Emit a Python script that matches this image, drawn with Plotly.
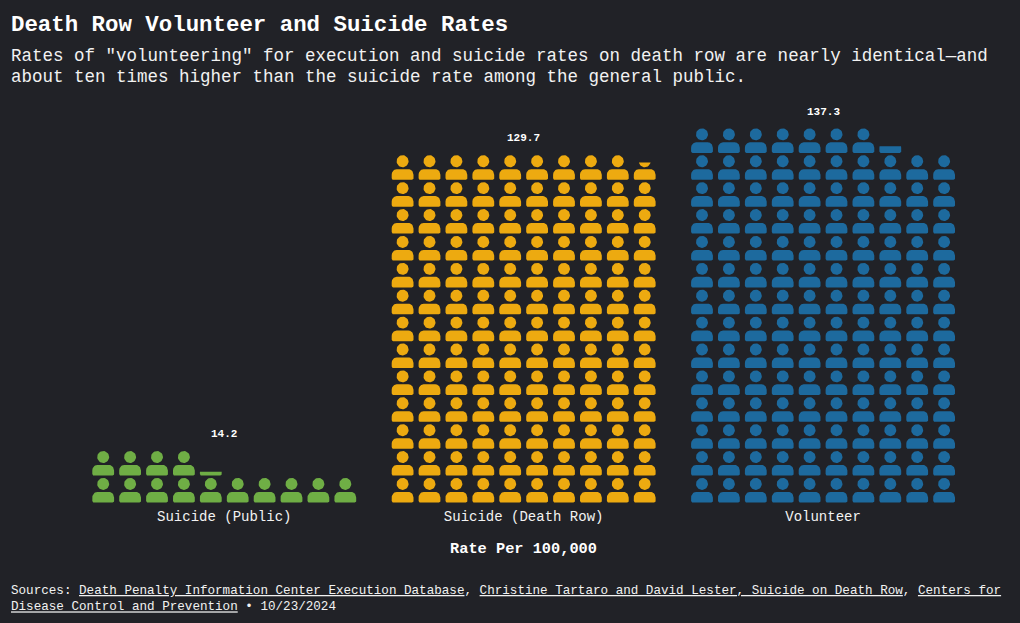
import math
import plotly.graph_objects as go

categories = ["Suicide (Public)", "Suicide (Death Row)", "Volunteer"]
rates = [14.2, 129.7, 137.3]
colors = ["#6FAE45", "#EDAA10", "#1D6A9E"]

PER_ROW = 10
W, H = 1020, 623
BG = "#212227"
FONT = "Liberation Mono"
PITCH_X, PITCH_Y = 26.9, 26.9
BASE_PX = 504.2
LEFT = 27
FIRST_COL_PX = [103.2, 402.6, 702.0]


def circle(cx, cy, r, n=36):
    return [(cx + r * math.cos(2 * math.pi * i / n), cy + r * math.sin(2 * math.pi * i / n)) for i in range(n)]


def arc(cx, cy, rx, ry, a0, a1, n=10):
    return [(cx + rx * math.cos(math.radians(a0 + (a1 - a0) * i / n)),
             cy + ry * math.sin(math.radians(a0 + (a1 - a0) * i / n))) for i in range(n + 1)]


def person_parts():
    """Icon outline in pixels, y up, relative to the cell's bottom centre."""
    bottom, top = 1.5, 12.1
    half = 10.9
    head = circle(0, 20.1, 6.0)
    body = (
        arc(-half + 1.5, bottom + 1.5, 1.5, 1.5, 180, 270)
        + arc(half - 1.5, bottom + 1.5, 1.5, 1.5, 270, 360)
        + arc(half - 5.0, top - 5.5, 5.0, 5.5, 0, 90)
        + arc(-half + 5.0, top - 5.5, 5.0, 5.5, 90, 180)
    )
    return [head, body]


def clip_top(poly, ymax):
    out = []
    for i, (x0, y0) in enumerate(poly):
        x1, y1 = poly[(i + 1) % len(poly)]
        in0, in1 = y0 <= ymax, y1 <= ymax
        if in0:
            out.append((x0, y0))
        if in0 != in1:
            t = (ymax - y0) / (y1 - y0)
            out.append((x0 + t * (x1 - x0), ymax))
    return out


parts = person_parts()
fig = go.Figure()
centers = []
for cat, rate, color, first_px in zip(categories, rates, colors, FIRST_COL_PX):
    first = first_px / PITCH_X
    centers.append(first + (PER_ROW - 1) / 2)
    xs, ys = [], []
    whole = int(rate)
    frac = rate - whole
    count = whole + (1 if frac > 1e-9 else 0)
    for k in range(count):
        row, col = divmod(k, PER_ROW)
        share = 1.0 if k < whole else frac
        for p in parts:
            poly = clip_top(p, share * PITCH_Y) if share < 1 else p
            if len(poly) < 3:
                continue
            for px_, py_ in poly + poly[:1]:
                xs.append(first + col + px_ / PITCH_X)
                ys.append(row + py_ / PITCH_Y)
            xs.append(None)
            ys.append(None)
    fig.add_trace(go.Scatter(x=xs, y=ys, mode="lines", fill="toself", fillcolor=color,
                             line=dict(width=0, color=color), name=cat, hoverinfo="skip",
                             showlegend=False))


def px(x):
    return (x - LEFT) / (W - LEFT)


def py(y):
    return (BASE_PX - y) / BASE_PX


annotations = []
for c, rate in zip(centers, rates):
    annotations.append(dict(x=c, y=math.ceil(rate / PER_ROW), xref="x", yref="y", text=f"<b>{rate}</b>",
                            showarrow=False, xanchor="center", yanchor="bottom", yshift=8,
                            font=dict(family=FONT, size=11, color="#FFFFFF")))


def text(x, y, s, size):
    annotations.append(dict(x=px(x - 2.5), y=py(y), xref="paper", yref="paper", text=s, showarrow=False,
                            xanchor="left", yanchor="middle", align="left",
                            font=dict(family=FONT, size=size, color="#F2F2F2")))


text(11, 56, 'Rates of "volunteering" for execution and suicide rates on death row are nearly identical—and', 17.5)
text(11, 77, "about ten times higher than the suicide rate among the general public.", 17.5)
text(11, 599, "Sources: <u>Death Penalty Information Center Execution Database</u>, "
              "<u>Christine Tartaro and David Lester, Suicide on Death Row</u>, <u>Centers for</u><br>"
              "<u>Disease Control and Prevention</u> • 10/23/2024", 12.6)

fig.update_layout(
    width=W, height=H, paper_bgcolor=BG, plot_bgcolor=BG,
    margin=dict(l=LEFT, r=0, t=0, b=H - BASE_PX, pad=0),
    font=dict(family=FONT, color="#F2F2F2"),
    title=dict(text="<b>Death Row Volunteer and Suicide Rates</b>", x=11 / W, xref="container", xanchor="left",
               y=1 - 23 / H, yref="container", yanchor="middle",
               font=dict(family=FONT, size=22.4, color="#FFFFFF")),
    xaxis=dict(range=[LEFT / PITCH_X, W / PITCH_X], tickvals=centers, ticktext=categories,
               showgrid=False, zeroline=False, showline=False, ticks="", ticklabelstandoff=2,
               tickfont=dict(family=FONT, size=14, color="#F2F2F2"),
               title=dict(text="<b>Rate Per 100,000</b>", standoff=18, font=dict(family=FONT, size=15.3, color="#FFFFFF"))),
    yaxis=dict(range=[0, BASE_PX / PITCH_Y], visible=False),
    annotations=annotations, showlegend=False,
)
fig.write_html("out.html", config=dict(displayModeBar=False),
               post_script="document.body.style.margin='0';")
